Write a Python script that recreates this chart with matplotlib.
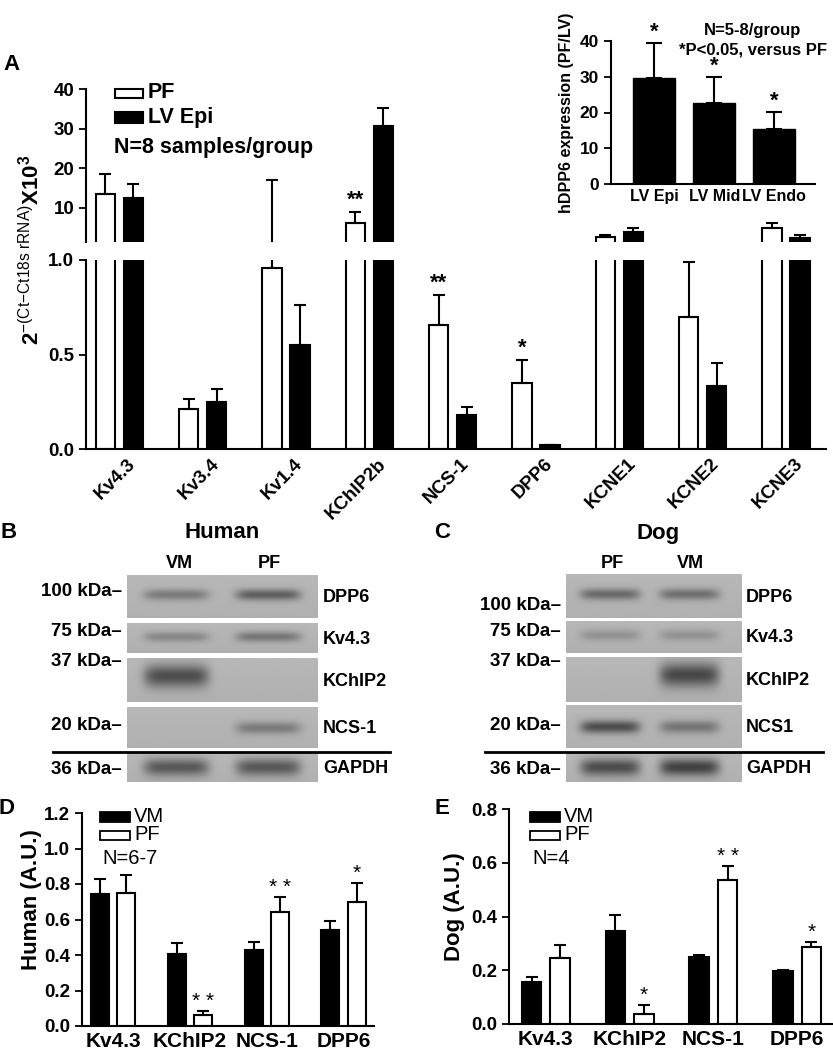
import numpy as np
import matplotlib
matplotlib.use('Agg')
import matplotlib.pyplot as plt
from matplotlib.patches import Rectangle
from matplotlib.transforms import ScaledTranslation

plt.rcParams['font.family'] = ['Liberation Sans', 'DejaVu Sans']
plt.rcParams['mathtext.fontset'] = 'custom'
plt.rcParams['mathtext.rm'] = 'Liberation Sans'
plt.rcParams['mathtext.bf'] = 'Liberation Sans:bold'
plt.rcParams['mathtext.it'] = 'Liberation Sans'

# ---- panel A data (qPCR) ----
genes = ['Kv4.3', 'Kv3.4', 'Kv1.4', 'KChIP2b', 'NCS-1', 'DPP6', 'KCNE1', 'KCNE2', 'KCNE3']
pf_mean = [13.5, 0.21, 0.96, 6.3, 0.655, 0.35, 2.6, 0.70, 4.9]
pf_err = [5.0, 0.053, 16.0, 2.7, 0.16, 0.12, 0.6, 0.29, 1.4]
lv_mean = [12.5, 0.25, 0.55, 30.7, 0.18, 0.02, 4.0, 0.335, 2.4]
lv_err = [3.5, 0.07, 0.21, 4.5, 0.043, 0.003, 0.9, 0.12, 0.7]
pf_sig = ['', '', '', '**', '**', '*', '', '', '']

# inset
inset_groups = ['LV Epi', 'LV Mid', 'LV Endo']
inset_mean = [29.6, 22.7, 15.5]
inset_err = [9.9, 7.3, 4.6]

# ---- panel D / E data (western quantification) ----
wb_proteins = ['Kv4.3', 'KChIP2', 'NCS-1', 'DPP6']
human_vm = [0.744, 0.404, 0.428, 0.541]
human_vm_err = [0.084, 0.064, 0.047, 0.052]
human_pf = [0.747, 0.06, 0.64, 0.697]
human_pf_err = [0.106, 0.025, 0.085, 0.109]
human_sig = ['', '**', '**', '*']

dog_vm = [0.158, 0.345, 0.249, 0.197]
dog_vm_err = [0.016, 0.059, 0.009, 0.005]
dog_pf = [0.246, 0.038, 0.536, 0.287]
dog_pf_err = [0.049, 0.033, 0.053, 0.018]
dog_sig = ['', '*', '**', '*']

# ---- blots (band darkness per lane, 0 = no band) ----
human_rows = ['DPP6', 'Kv4.3', 'KChIP2', 'NCS-1', 'GAPDH']
human_kda = ['100 kDa', '75 kDa', '37 kDa', '20 kDa', '36 kDa']
human_lanes = ['VM', 'PF']
human_band_vm = [0.50, 0.40, 0.90, 0.0, 0.80]
human_band_pf = [0.75, 0.55, 0.0, 0.50, 0.80]

dog_rows = ['DPP6', 'Kv4.3', 'KChIP2', 'NCS1', 'GAPDH']
dog_kda = ['100 kDa', '75 kDa', '37 kDa', '20 kDa', '36 kDa']
dog_lanes = ['PF', 'VM']
dog_band_pf = [0.65, 0.30, 0.0, 0.90, 0.90]
dog_band_vm = [0.60, 0.30, 0.95, 0.55, 1.0]

W, H = 833, 1050
fig = plt.figure(figsize=(W / 100, H / 100), dpi=100)


def fx(px):
    return px / W


def fy(py):
    return 1 - py / H


def box(x0, y0, x1, y1):
    # pixel box -> fig rect
    return [fx(x0), fy(y1), fx(x1) - fx(x0), fy(y0) - fy(y1)]


def style_ax(ax, lw=1.5):
    for s in ['top', 'right']:
        ax.spines[s].set_visible(False)
    ax.spines['left'].set_linewidth(lw)
    ax.spines['bottom'].set_linewidth(lw)
    ax.tick_params(axis='y', direction='out', length=5, width=1.3)
    ax.tick_params(axis='x', length=0)


def pair_bars(ax, x, vals, errs, off, w, face, cap=4.5, lw=1.5, lo=None):
    vals = np.asarray(vals)
    errs = np.asarray(errs)
    ax.bar(x + off, vals, w, color=face, edgecolor='black', linewidth=lw, zorder=2)
    keep = np.ones(len(vals), bool) if lo is None else (vals + errs) > lo
    ax.errorbar((x + off)[keep], vals[keep], yerr=[np.zeros(keep.sum()), errs[keep]],
                fmt='none', ecolor='black', elinewidth=lw, capsize=cap, capthick=lw, zorder=3)


# ================= panel A =================
xa = np.arange(len(genes))
off_a, w_a = 0.168, 0.23
ax_top = fig.add_axes(box(86, 89, 826, 242))
ax_bot = fig.add_axes(box(86, 260, 826, 449))
for ax, lo in ((ax_top, 1.4), (ax_bot, None)):
    pair_bars(ax, xa, pf_mean, pf_err, -off_a, w_a, 'white', lo=lo)
    pair_bars(ax, xa, lv_mean, lv_err, off_a, w_a, 'black', lo=lo)
    style_ax(ax)
    ax.set_xlim(-0.40, 8.48)
ax_top.set_ylim(1.4, 40)
ax_top.set_yticks([10, 20, 30, 40])
ax_top.spines['bottom'].set_visible(False)
ax_top.set_xticks([])
ax_bot.set_ylim(0, 1.0)
ax_bot.set_yticks([0.0, 0.5, 1.0])
ax_bot.set_yticklabels(['0.0', '0.5', '1.0'])
for ax in (ax_top, ax_bot):
    for t in ax.get_yticklabels():
        t.set_fontsize(13.5)
        t.set_fontweight('bold')
ax_bot.set_xticks(xa)
ax_bot.set_xticklabels(genes, rotation=45, ha='right', va='center', rotation_mode='anchor',
                       fontsize=13.5, fontweight='bold')
ax_bot.tick_params(axis='x', pad=9)
shift = ScaledTranslation(14 / 100, 0, fig.dpi_scale_trans)
for t in ax_bot.get_xticklabels():
    t.set_transform(t.get_transform() + shift)

for i, s in enumerate(pf_sig):
    if not s:
        continue
    top = pf_mean[i] + pf_err[i]
    ax = ax_top if top > 1.0 else ax_bot
    ax.annotate(s, (xa[i] - off_a, top), xytext=(0, 1), textcoords='offset points',
                ha='center', va='bottom', fontsize=16, fontweight='bold')

# legend A
fig.patches.append(Rectangle((fx(115), fy(98)), fx(143) - fx(115), fy(89) - fy(98),
                             transform=fig.transFigure, facecolor='white', edgecolor='black', lw=1.5))
fig.patches.append(Rectangle((fx(115), fy(123)), fx(143) - fx(115), fy(112) - fy(123),
                             transform=fig.transFigure, facecolor='black', edgecolor='black', lw=1.5))
fig.text(fx(148), fy(93), 'PF', fontsize=15.5, fontweight='bold', va='center')
fig.text(fx(148), fy(118), 'LV Epi', fontsize=15.5, fontweight='bold', va='center')
fig.text(fx(114), fy(148), 'N=8 samples/group', fontsize=15.5, fontweight='bold', va='center')

fig.text(fx(32), fy(250), r'$\mathbf{2}^{\mathrm{-(Ct{-}Ct18s\ rRNA)}}\mathbf{X10}^{\mathbf{3}}$',
         rotation=90, ha='center', va='center', fontsize=16)
fig.text(fx(3), fy(64), 'A', fontsize=16, fontweight='bold', va='center')

# inset
ax_in = fig.add_axes(box(611, 41, 815, 184))
xi = np.arange(len(inset_groups))
ax_in.bar(xi, inset_mean, 0.7, color='black', edgecolor='black', zorder=2)
ax_in.errorbar(xi, inset_mean, yerr=[np.zeros(3), inset_err], fmt='none', ecolor='black',
               elinewidth=1.5, capsize=5.5, capthick=1.5, zorder=3)
style_ax(ax_in)
ax_in.set_xlim(-0.717, 2.675)
ax_in.set_ylim(0, 40)
ax_in.set_yticks([0, 10, 20, 30, 40])
ax_in.set_xticks(xi)
ax_in.set_xticklabels(inset_groups, fontsize=11.5, fontweight='bold')
for t in ax_in.get_yticklabels():
    t.set_fontsize(12.5)
    t.set_fontweight('bold')
for i in range(3):
    ax_in.annotate('*', (xi[i], inset_mean[i] + inset_err[i]), xytext=(0, 0),
                   textcoords='offset points', ha='center', va='bottom',
                   fontsize=16, fontweight='bold')
ax_in.set_ylabel('hDPP6 expression (PF/LV)', fontsize=11.5, fontweight='bold', labelpad=4)
fig.text(fx(753), fy(30), 'N=5-8/group', fontsize=12, fontweight='bold', ha='center', va='center')
fig.text(fx(753), fy(50), '*P<0.05, versus PF', fontsize=12, fontweight='bold', ha='center', va='center')


# ================= blots B / C =================
def draw_strip(rect, levels, cy, sig, hw, centers):
    ax = fig.add_axes(rect)
    hh, ww = 60, 300
    yy, xx = np.mgrid[0:hh, 0:ww]
    xx = xx / ww
    yy = yy / hh
    img = np.full((hh, ww), 0.72) - 0.03 * yy
    for cx, lv in zip(centers, levels):
        if lv <= 0:
            continue
        px = np.exp(-((xx - cx) / hw) ** 6)
        py = np.exp(-((yy - cy) / sig) ** 2)
        img = img - lv * 0.45 * px * py
    ax.imshow(img, cmap='gray', vmin=0, vmax=1, aspect='auto', extent=(0, 1, 0, 1),
              interpolation='bilinear')
    ax.set_axis_off()


def draw_blot(x0, x1, rows_y, kda_y, kda_x, name_x, lane_a, lane_b, centers,
              rows, kda, line_x, title, title_x, letter, letter_x):
    thick = [0.13, 0.17, 0.26, 0.15, 0.30]
    cys = [0.45, 0.45, 0.40, 0.50, 0.48]
    for k in range(len(rows)):
        y0, y1 = rows_y[k]
        draw_strip(box(x0, y0, x1, y1), [lane_a[k], lane_b[k]], cys[k], thick[k], 0.17, centers)
        fig.text(fx(kda_x), fy(kda_y[k]), kda[k] + '\u2013', fontsize=13.5, fontweight='bold',
                 ha='right', va='center')
        fig.text(fx(name_x), fy((y0 + y1) / 2 + 1), rows[k], fontsize=13, fontweight='bold',
                 ha='left', va='center')
    fig.add_artist(plt.Line2D([fx(line_x[0]), fx(line_x[1])], [fy(751.5), fy(751.5)],
                              transform=fig.transFigure, color='black', lw=2))
    fig.text(fx(title_x), fy(533), title, fontsize=16, fontweight='bold', ha='center', va='center')
    fig.text(fx(letter_x), fy(533), letter, fontsize=16, fontweight='bold', ha='left', va='center')


human_rows_y = [(575, 618), (623, 653), (658, 702), (707, 748), (753, 782)]
draw_blot(127, 318, human_rows_y, [592, 631, 662, 725, 769], 122, 323,
          human_band_vm, human_band_pf, [0.257, 0.738], human_rows, human_kda,
          (53, 390), 'Human', 222, 'B', 0)
fig.text(fx(179), fy(563), human_lanes[0], fontsize=13, fontweight='bold', ha='center', va='center')
fig.text(fx(269), fy(563), human_lanes[1], fontsize=13, fontweight='bold', ha='center', va='center')

dog_rows_y = [(574, 618), (621, 653), (657, 702), (705, 748), (753, 782)]
draw_blot(566, 742, dog_rows_y, [606, 631, 662, 725, 769], 561, 746,
          dog_band_pf, dog_band_vm, [0.25, 0.70], dog_rows, dog_kda,
          (485, 823), 'Dog', 658, 'C', 434)
fig.text(fx(612), fy(563), dog_lanes[0], fontsize=13, fontweight='bold', ha='center', va='center')
fig.text(fx(690), fy(563), dog_lanes[1], fontsize=13, fontweight='bold', ha='center', va='center')


# ================= panels D / E =================
def wb_panel(rect, vm, vm_err, pf, pf_err, sig, ymax, yticks, ylabel, ylab_xy, nlabel,
             xlim, leg_x, letter, letter_x):
    ax = fig.add_axes(rect)
    x = np.arange(len(wb_proteins))
    off, w = 0.17, 0.234
    pair_bars(ax, x, vm, vm_err, -off, w, 'black', cap=4.0)
    pair_bars(ax, x, pf, pf_err, off, w, 'white', cap=4.0)
    style_ax(ax)
    ax.set_xlim(*xlim)
    ax.set_ylim(0, ymax)
    ax.set_yticks(yticks)
    ax.set_yticklabels(['%.1f' % v for v in yticks], fontsize=13.5, fontweight='bold')
    ax.set_xticks(x)
    ax.set_xticklabels(wb_proteins, fontsize=15, fontweight='bold')
    ax.tick_params(axis='x', pad=4)
    fig.text(fx(ylab_xy[0]), fy(ylab_xy[1]), ylabel, rotation=90, fontsize=16,
             fontweight='bold', ha='center', va='center')
    for i, s in enumerate(sig):
        if s:
            ax.annotate(' '.join(s), (x[i] + off, pf[i] + pf_err[i]), xytext=(0, 0),
                        textcoords='offset points', ha='center', va='bottom', fontsize=15)
    fig.patches.append(Rectangle((fx(leg_x), fy(822)), fx(30), fy(812) - fy(822),
                                 transform=fig.transFigure, facecolor='black', edgecolor='black', lw=1.3))
    fig.patches.append(Rectangle((fx(leg_x), fy(840)), fx(30), fy(831) - fy(840),
                                 transform=fig.transFigure, facecolor='white', edgecolor='black', lw=1.3))
    fig.text(fx(leg_x + 34), fy(816), 'VM', fontsize=14.5, va='center')
    fig.text(fx(leg_x + 34), fy(835), 'PF', fontsize=14.5, va='center')
    fig.text(fx(leg_x + 2), fy(858), nlabel, fontsize=14.5, va='center')
    fig.text(fx(letter_x), fy(808), letter, fontsize=16, fontweight='bold', va='center')
    return ax


wb_panel(box(82, 813, 374, 1026), human_vm, human_vm_err, human_pf, human_pf_err,
         human_sig, 1.2, [0.0, 0.2, 0.4, 0.6, 0.8, 1.0, 1.2], 'Human (A.U.)', (32, 900), 'N=6-7',
         (-0.404, 3.397), 100, 'D', -2)
wb_panel(box(509, 809, 832, 1024), dog_vm, dog_vm_err, dog_pf, dog_pf_err,
         dog_sig, 0.8, [0.0, 0.2, 0.4, 0.6, 0.8], 'Dog (A.U.)', (455, 907), 'N=4',
         (-0.44, 3.417), 530, 'E', 434)

fig.savefig('out.png', dpi=100)
